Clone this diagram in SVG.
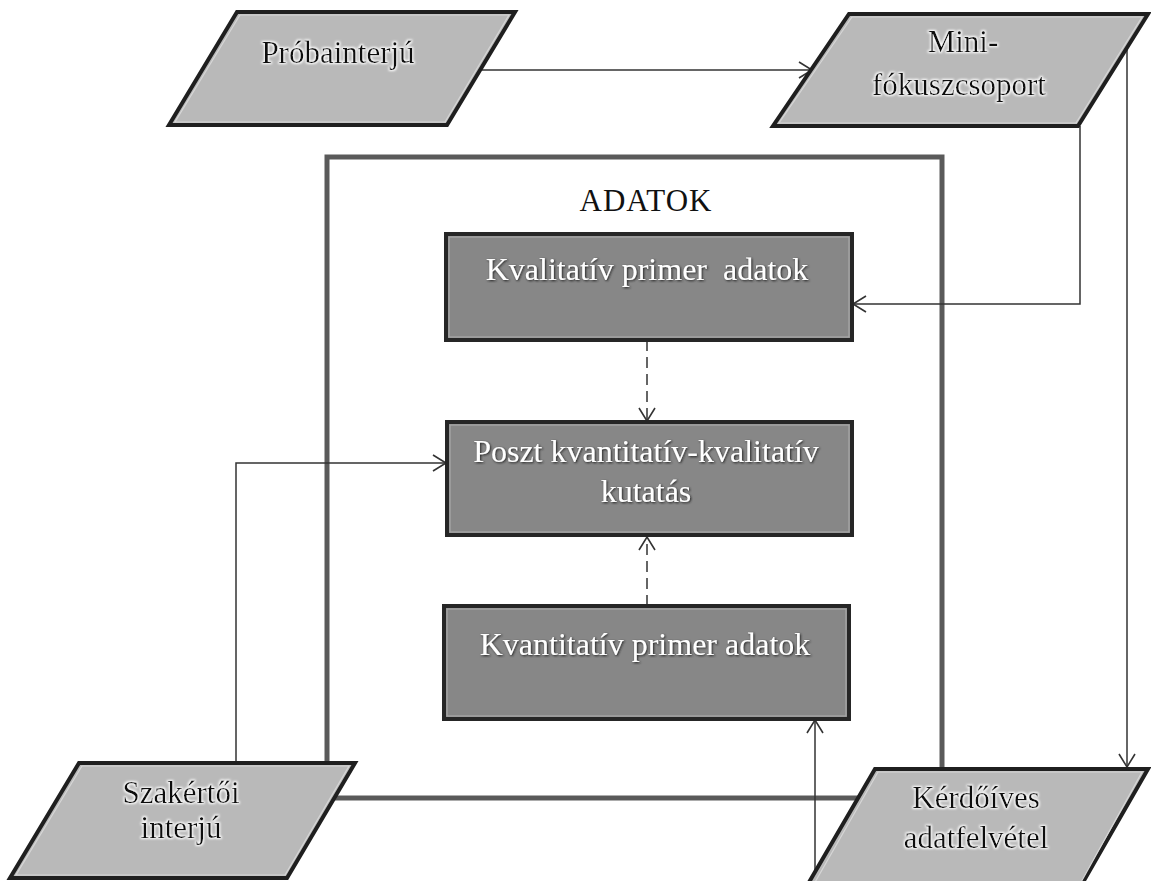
<svg xmlns="http://www.w3.org/2000/svg" width="1151" height="881" viewBox="0 0 1151 881">
<style>
.para{fill:#b9b9b9;stroke:#1f1f1f;stroke-width:4;stroke-linejoin:miter}
.parain{fill:none;stroke:#d6d6d6;stroke-width:1.2}
.box{fill:#878787;stroke:#262626;stroke-width:4}
.boxin{fill:none;stroke:#a8a8a8;stroke-width:1.2}
.t{font-family:"Liberation Serif","Times New Roman",serif;font-size:31px;text-anchor:middle}
.tb{font-size:32px}
.dk{fill:#111}
.lt{fill:#fff}
.con{fill:none;stroke:#333;stroke-width:1.5}
.dash{stroke-dasharray:11,6}
.frame{fill:none;stroke:#5a5a5a;stroke-width:5}
</style>
<defs>
<marker id="ar" markerUnits="userSpaceOnUse" markerWidth="16" markerHeight="20" refX="14" refY="9" orient="auto" viewBox="0 0 16 18">
<path d="M1,1 L14,9 L1,17" fill="none" stroke="#333" stroke-width="1.6"/>
</marker>
<filter id="glowW" x="-10%" y="-30%" width="120%" height="160%">
<feMorphology in="SourceAlpha" operator="dilate" radius="1" result="d"/>
<feGaussianBlur in="d" stdDeviation="1" result="b"/>
<feFlood flood-color="#ffffff"/>
<feComposite in2="b" operator="in" result="g"/>
<feMerge><feMergeNode in="g"/><feMergeNode in="SourceGraphic"/></feMerge>
</filter>
<filter id="glowD" x="-10%" y="-30%" width="120%" height="160%">
<feGaussianBlur in="SourceAlpha" stdDeviation="1.2" result="b"/>
<feOffset in="b" dx="1" dy="1" result="o"/>
<feFlood flood-color="#222"/>
<feComposite in2="o" operator="in" result="g"/>
<feMerge><feMergeNode in="g"/><feMergeNode in="SourceGraphic"/></feMerge>
</filter>
</defs>
<rect width="1151" height="881" fill="#fff"/>

<g id="adatok-frame">
<rect class="frame" x="327" y="157" width="615" height="641"/>
<text class="t dk" x="646" y="211" style="letter-spacing:1px">ADATOK</text>
</g>

<g id="connectors">
<path class="con" d="M482,70 L812,70" marker-end="url(#ar)"/>
<path class="con" d="M1080,126 L1080,304 L853,304" marker-end="url(#ar)"/>
<path class="con" d="M1127,48 L1127,767" marker-end="url(#ar)"/>
<path class="con dash" d="M647,340 L647,421" marker-end="url(#ar)"/>
<path class="con dash" d="M647,606 L647,537" marker-end="url(#ar)"/>
<path class="con" d="M236,763 L236,463 L446,463" marker-end="url(#ar)"/>
<path class="con" d="M815,885 L815,720" marker-end="url(#ar)"/>
</g>

<g id="kvalitativ">
<rect class="box" x="446" y="234" width="406" height="106"/>
<rect class="boxin" x="449" y="237" width="400" height="100"/>
<text class="t tb lt" x="647" y="280" filter="url(#glowD)" xml:space="preserve">Kvalitatív primer  adatok</text>
</g>

<g id="poszt">
<rect class="box" x="447" y="422" width="405" height="113"/>
<rect class="boxin" x="450" y="425" width="399" height="107"/>
<text class="t tb lt" x="646" y="462" filter="url(#glowD)">Poszt kvantitatív-kvalitatív</text>
<text class="t tb lt" x="646" y="502" filter="url(#glowD)">kutatás</text>
</g>

<g id="kvantitativ">
<rect class="box" x="444" y="606" width="405" height="113"/>
<rect class="boxin" x="447" y="609" width="399" height="107"/>
<text class="t tb lt" x="645" y="655" filter="url(#glowD)">Kvantitatív primer adatok</text>
</g>

<g id="probainterju">
<polygon class="para" points="237,12 515,12 447,125 169,125"/>
<polygon class="parain" points="240,15 509,15 445,122 175,122"/>
<text class="t dk" x="338" y="63" filter="url(#glowW)">Próbainterjú</text>
</g>

<g id="mini-fokuszcsoport">
<polygon class="para" points="849,14 1148,14 1078,126 773,126"/>
<polygon class="parain" points="852,17 1142,17 1076,123 779,123"/>
<text class="t dk" x="963" y="52" filter="url(#glowW)">Mini-</text>
<text class="t dk" x="959" y="95" filter="url(#glowW)">fókuszcsoport</text>
</g>

<g id="szakertoi-interju">
<polygon class="para" points="79,763 355,763 287,878 10,878"/>
<polygon class="parain" points="82,766 349,766 285,875 16,875"/>
<text class="t dk" x="181" y="803" filter="url(#glowW)">Szakértői</text>
<text class="t dk" x="181" y="838" filter="url(#glowW)">interjú</text>
</g>

<g id="kerdoives-adatfelvetel">
<polygon class="para" points="875,769 1148,769 1082,884 808,884"/>
<polygon class="parain" points="878,772 1142,772 1080,884 814,884"/>
<text class="t dk" x="976" y="808" filter="url(#glowW)">Kérdőíves</text>
<text class="t dk" x="976" y="848" filter="url(#glowW)">adatfelvétel</text>
</g>
</svg>
